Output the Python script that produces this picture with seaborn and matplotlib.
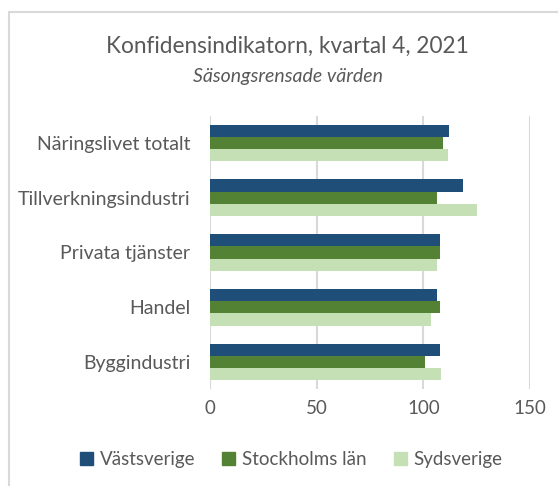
import pandas as pd
import matplotlib.pyplot as plt
import matplotlib.patches as mpatches
import seaborn as sns

categories = ["Näringslivet totalt", "Tillverkningsindustri", "Privata tjänster", "Handel", "Byggindustri"]
series = ["Västsverige", "Stockholms län", "Sydsverige"]
vastsverige = [112.0, 118.6, 107.8, 106.5, 107.8]
stockholm = [109.1, 106.5, 107.8, 107.8, 100.6]
sydsverige = [111.4, 125.2, 106.5, 103.6, 108.3]
x_ticks = [0, 50, 100, 150]

colors = ["#1F4E79", "#548235", "#C5E0B4"]
text_color = "#595959"

rows = []
for name, vals in zip(series, [vastsverige, stockholm, sydsverige]):
    for cat, v in zip(categories, vals):
        rows.append({"kategori": cat, "region": name, "värde": v})
df = pd.DataFrame(rows)

sns.set_style("white")
plt.rcParams["font.family"] = ["Lato", "DejaVu Sans"]

fig = plt.figure(figsize=(5.58, 4.86), dpi=100)
ax = fig.add_axes([0.376, 0.199, 0.574, 0.563])

sns.barplot(data=df, y="kategori", x="värde", hue="region", orient="h",
            order=categories, hue_order=series, palette=colors,
            width=0.67, gap=0, saturation=1, linewidth=0, ax=ax, legend=False)

ax.set_xlim(0, 150)
ax.set_xticks(x_ticks)
ax.xaxis.grid(True, color="#D9D9D9", linewidth=1.5)
ax.set_axisbelow(True)
for s in ax.spines.values():
    s.set_visible(False)
ax.set_xlabel("")
ax.set_ylabel("")
ax.tick_params(axis="x", colors=text_color, labelsize=13.5, length=0, pad=8)
ax.tick_params(axis="y", colors=text_color, labelsize=14, length=0, pad=14)

fig.text(0.515, 0.905, "Konfidensindikatorn, kvartal 4, 2021", ha="center", va="center",
         fontsize=16.3, color=text_color)
fig.text(0.516, 0.842, "Säsongsrensade värden", ha="center", va="center",
         fontsize=14, style="italic", color=text_color)

handles = [mpatches.Patch(color=c, label=s) for c, s in zip(colors, series)]
fig.legend(handles=handles, loc="center", bbox_to_anchor=(0.522, 0.054), ncol=3,
           frameon=False, fontsize=13.5, labelcolor=text_color,
           handlelength=0.7, handleheight=0.7, handletextpad=0.35, columnspacing=1.45)

# outer chart frame
fig.patches.append(mpatches.Rectangle((9 / 558, -0.1), 1.1, 1 - 12 / 486 + 0.1,
                                      transform=fig.transFigure, fill=False,
                                      edgecolor="#D9D9D9", linewidth=1.5))

fig.savefig("out.png", dpi=100)
